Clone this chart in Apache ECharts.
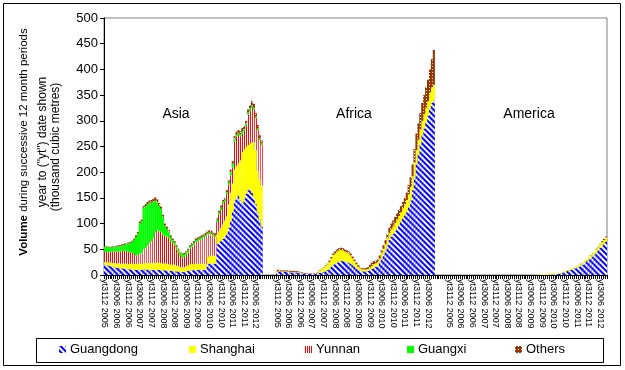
<!DOCTYPE html>
<html><head><meta charset="utf-8">
<script src="https://cdn.jsdelivr.net/npm/echarts@6/dist/echarts.min.js"></script>
<style>html,body{margin:0;padding:0;background:#fff}#c{width:625px;height:370px}</style>
</head><body><div id="c"></div>
<script>
const regions = ['Asia', 'Africa', 'America'];
const tickLabels = ['yt3112 2005','yt3006 2006','yt3112 2006','yt3006 2007','yt3112 2007','yt3006 2008','yt3112 2008','yt3006 2009','yt3112 2009','yt3006 2010','yt3112 2010','yt3006 2011','yt3112 2011','yt3006 2012'];
const seriesNames = ['Guangdong', 'Shanghai', 'Yunnan', 'Guangxi', 'Others'];

// monthly values Dec 2005 .. Sep 2012 (82 months) per region
const asiaGuangdong = [20,19,18,17,16,15,14,14,13,13,12,12, 11,11,11,10,10,10,10,10,11,11,10,10, 10,10,10,10,10,9,9,9,9,8,8,8, 8,7,7,6,6,6,7,8,9,9,10,10, 10,10,10,10,10,22,22,22,22,22, 60,63,66,70,76,81,92,105,123,145,150,155, 145,139,148,158,165,168,160,150,138,122,108,94];
const asiaShanghai = [5,6,6,7,7,8,8,9,9,9,10,10, 10,11,11,11,12,12,12,12,12,12,13,13, 13,13,14,14,14,14,13,13,13,13,12,12, 12,11,10,9,9,9,10,11,12,12,12,12, 12,12,12,12,12,13,15,16,16,16, 18,22,25,28,30,33,45,55,55,60,62,62, 78,100,97,92,88,88,98,108,105,80,78,80];
const asiaYunnan = [20,20,20,21,23,23,23,23,23,25,25,24, 24,22,21,20,16,17,19,21,28,29,35,40, 43,48,59,63,61,61,56,54,53,51,46,42, 38,32,26,22,18,20,22,25,31,34,37,42, 44,46,48,51,53,44,43,41,37,36, 25,33,35,41,37,43,39,34,31,54,57,55, 47,36,35,40,59,63,68,64,62,80,76,79];
const asiaGuangxi = [10,10,10,9,9,9,10,10,11,11,12,14, 16,18,22,28,36,42,60,62,80,82,80,78, 75,72,62,55,50,45,35,20,15,12,8,6, 5,5,6,6,7,6,5,5,4,4,4,4, 4,4,4,3,3,3,3,3,3,3, 4,4,6,4,4,4,5,6,8,5,4,4, 4,5,4,4,4,5,4,4,4,4,4,4];
const asiaOthers = [1,1,1,1,1,1,2,2,2,2,2,2, 2,2,2,2,3,3,3,3,3,4,4,4, 5,5,6,5,5,4,4,4,4,3,3,3, 3,3,2,2,2,2,2,2,2,3,3,3, 3,3,3,3,4,4,4,4,4,4, 3,3,3,3,3,4,4,5,5,6,6,6, 6,6,6,6,6,6,8,7,6,6,6,5];

const africaGuangdong = [6,6,6,6,6,6,6,5,5,5,5,5, 4,3,3,3,2,2,2,2,2,3,4,5, 6,8,10,12,16,20,22,24,26,27,27,26, 25,24,22,19,16,12,10,8,7,7,7,8, 10,12,14,16,18,24,32,40,48,58, 68,75,80,86,92,98,104,110,116,122,132,145, 165,190,215,235,255,272,285,298,310,325,335,340];
const africaShanghai = [1,1,1,1,1,1,1,1,1,1,1,1, 1,1,0,0,0,0,0,0,1,2,4,6, 8,9,10,13,16,19,20,22,22,22,21,20, 19,18,16,13,11,9,6,5,4,4,4,4, 5,6,7,7,7,8,10,11,12,13, 14,14,14,15,16,17,18,20,22,24,25,26, 27,28,28,28,28,28,28,28,28,30,30,30];
const africaYunnan = [0,0,0,0,0,0,0,0,0,0,0,0, 0,0,0,0,0,0,0,0,0,0,0,0, 0,0,0,0,0,0,0,0,0,0,0,0, 0,0,0,0,0,0,0,0,0,0,0,0, 0,0,0,0,0,0,0,0,0,0, 0,0,0,0,0,0,0,0,0,0,0,0, 0,0,0,0,0,0,0,0,0,0,0,0];
const africaGuangxi = [0,0,0,0,0,0,0,0,0,0,0,0, 0,0,0,0,0,0,0,0,0,0,0,0, 0,1,1,0,0,0,0,0,0,0,0,0, 0,0,0,0,0,0,0,0,0,0,0,0, 0,0,0,0,0,0,0,0,0,0, 0,0,0,0,0,0,0,0,0,0,0,0, 0,0,0,0,0,0,0,0,0,0,0,0];
const africaOthers = [3,3,2,2,2,2,2,2,2,2,2,1, 1,1,1,1,1,1,1,1,1,1,1,1, 1,1,1,3,3,3,4,4,4,4,4,4, 4,4,4,4,3,3,3,2,2,2,3,3, 5,6,6,5,5,6,6,7,8,9, 10,11,12,12,12,12,12,12,12,14,18,19, 23,27,32,32,32,35,37,39,42,45,55,68];

const americaGuangdong = [0,0,0,0,0,0,0,0,0,0,0,0, 0,0,0,0,0,0,0,0,0,0,0,0, 0,0,0,0,0,0,0,0,0,0,0,0, 0,0,0,0,0,0,0,0,0,0,0,0, 0,0,0,0,1,1,1,2,2,3, 4,5,6,8,9,10,12,13,14,16,18,20, 24,27,30,33,36,40,44,48,53,57,61,65];
const americaShanghai = [0,0,0,0,0,0,0,0,0,0,0,0, 0,0,0,0,0,0,0,0,0,0,0,0, 0,0,0,0,0,0,0,0,0,0,0,0, 0,0,0,0,0,0,0,0,0,0,1,2, 2,2,2,2,2,2,2,1,1,1, 1,2,2,2,2,2,2,2,3,3,3,3, 4,4,4,5,5,5,6,6,7,7,7,8];
const americaYunnan = [0,0,0,0,0,0,0,0,0,0,0,0, 0,0,0,0,0,0,0,0,0,0,0,0, 0,0,0,0,0,0,0,0,0,0,0,0, 0,0,0,0,0,0,0,0,0,0,0,0, 0,0,0,0,0,0,0,0,0,0, 0,0,0,0,0,0,0,0,0,0,0,0, 0,0,0,0,0,0,0,0,0,0,0,0];
const americaGuangxi = [0,0,0,0,0,0,0,0,0,0,0,0, 0,0,0,0,0,0,0,0,0,0,0,0, 0,0,0,0,0,0,0,0,0,0,0,0, 0,0,0,0,0,0,0,0,0,0,0,0, 0,0,0,0,0,0,0,0,0,0, 0,0,0,0,0,0,0,0,0,0,0,0, 0,0,0,0,1,0,0,0,0,0,0,0];
const americaOthers = [0,0,0,0,0,0,0,0,0,0,0,0, 0,0,0,0,0,0,0,0,0,0,0,0, 0,0,0,0,0,0,0,0,0,0,0,0, 0,0,0,0,0,0,0,0,0,0,0,0, 0,0,0,0,0,0,0,0,0,0, 0,0,0,0,0,0,0,0,0,0,1,0, 0,0,0,1,0,0,1,1,1,2,2,2];

const GAP = 7; // empty categories between region blocks
const MONTHS = 82;
const byRegion = {
  Guangdong: [asiaGuangdong, africaGuangdong, americaGuangdong],
  Shanghai: [asiaShanghai, africaShanghai, americaShanghai],
  Yunnan: [asiaYunnan, africaYunnan, americaYunnan],
  Guangxi: [asiaGuangxi, africaGuangxi, americaGuangxi],
  Others: [asiaOthers, africaOthers, americaOthers]
};

const categories = [];
const labelOf = [];
regions.forEach((r, ri) => {
  for (let m = 0; m < MONTHS; m++) {
    categories.push(r + '-' + m);
    labelOf.push(m % 6 === 0 && m / 6 < tickLabels.length ? tickLabels[m / 6] : '');
  }
  if (ri < regions.length - 1) {
    for (let g = 0; g < GAP; g++) { categories.push(r + '-gap' + g); labelOf.push(''); }
  }
});
function joined(arrs) {
  const out = [];
  arrs.forEach((a, ri) => {
    a.forEach(v => out.push(v));
    if (ri < arrs.length - 1) for (let g = 0; g < GAP; g++) out.push(null);
  });
  return out;
}

const styles = {
  Guangdong: { color: '#0000ff', decal: { symbol: 'rect', symbolSize: 1, color: '#ffffff', dashArrayX: [1, 0], dashArrayY: [2, 2], rotation: Math.PI / 4 } },
  Shanghai: { color: '#ffff00' },
  Yunnan: { color: '#ffffff', decal: { symbol: 'rect', symbolSize: 1, color: '#ff0000', dashArrayX: [1, 1], dashArrayY: [1, 0] } },
  Guangxi: { color: '#00ff00' },
  Others: { color: '#993300', decal: { symbol: 'rect', symbolSize: 1, color: '#ffffff', dashArrayX: [1, 2], dashArrayY: [1, 2] } }
};

const legendLeft = [59, 189, 305, 407, 515];
const chart = echarts.init(document.getElementById('c'), null, { renderer: 'canvas' });
chart.setOption({
  animation: false,
  backgroundColor: '#ffffff',
  textStyle: { fontFamily: 'Liberation Sans, Arial, sans-serif' },
  grid: { left: 104, right: 18, top: 18, bottom: 95, show: true, borderColor: '#808080', borderWidth: 1, backgroundColor: 'transparent' },
  legend: seriesNames.map((n, k) => ({
    data: [n], left: legendLeft[k], top: 343, icon: 'rect', itemWidth: 7, itemHeight: 7, itemGap: 0, padding: 0,
    selectedMode: false, textStyle: { fontSize: 13, color: '#000', padding: [0, 0, 0, -1] }
  })),
  xAxis: {
    type: 'category', data: categories, boundaryGap: true,
    axisLine: { lineStyle: { color: '#000', width: 1 } },
    axisTick: { show: true, interval: 0, length: 4, lineStyle: { color: '#000' } },
    axisLabel: { interval: 0, rotate: -90, fontSize: 9, color: '#000', margin: 4, formatter: (v, i) => labelOf[i] }
  },
  yAxis: {
    type: 'value', min: 0, max: 500, interval: 50,
    axisLine: { show: true, lineStyle: { color: '#000' } },
    axisTick: { show: true, length: 4, lineStyle: { color: '#000' } },
    splitLine: { show: false },
    axisLabel: { fontSize: 13, color: '#000', margin: 6 }
  },
  series: seriesNames.map(n => ({
    name: n, type: 'bar', stack: 'total', data: joined(byRegion[n]),
    barWidth: 2.1, barGap: '0%', itemStyle: styles[n], emphasis: { disabled: true }
  })),
  graphic: [
    { type: 'rect', shape: { x: 3.5, y: 3.5, width: 617, height: 362 }, style: { fill: 'none', stroke: '#000', lineWidth: 1 }, silent: true },
    { type: 'rect', shape: { x: 36.5, y: 338.5, width: 567, height: 24 }, style: { fill: 'none', stroke: '#000', lineWidth: 1 }, silent: true, z: -1 },
    { type: 'text', x: 176, y: 114, style: { text: regions[0], font: '14px Liberation Sans', fill: '#000', textAlign: 'center', textVerticalAlign: 'middle' } },
    { type: 'text', x: 354, y: 114, style: { text: regions[1], font: '14px Liberation Sans', fill: '#000', textAlign: 'center', textVerticalAlign: 'middle' } },
    { type: 'text', x: 529, y: 114, style: { text: regions[2], font: '14px Liberation Sans', fill: '#000', textAlign: 'center', textVerticalAlign: 'middle' } },
    { type: 'text', x: 24, y: 142, rotation: Math.PI / 2, style: { text: '{b|Volume} during successive 12 month periods', font: '11.5px Liberation Sans', fill: '#000', textAlign: 'center', textVerticalAlign: 'middle', rich: { b: { fontWeight: 'bold', fontSize: 11.5, fontFamily: 'Liberation Sans' } } } },
    { type: 'text', x: 43, y: 142, rotation: Math.PI / 2, style: { text: 'year to ("yt") date shown', font: '12px Liberation Sans', fill: '#000', textAlign: 'center', textVerticalAlign: 'middle' } },
    { type: 'text', x: 56, y: 147, rotation: Math.PI / 2, style: { text: '(thousand cubic metres)', font: '12px Liberation Sans', fill: '#000', textAlign: 'center', textVerticalAlign: 'middle' } }
  ]
});
</script>
</body></html>
